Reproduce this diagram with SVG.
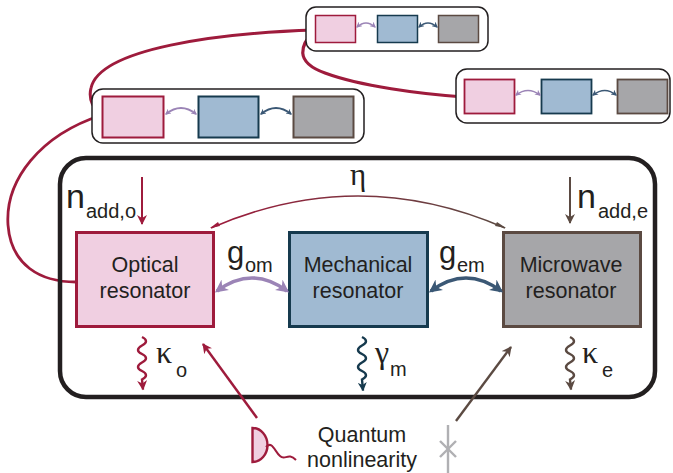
<svg xmlns="http://www.w3.org/2000/svg" width="673" height="473" viewBox="0 0 673 473">
<defs>
<style>
.lbl{font-family:"Liberation Sans",Arial,sans-serif;fill:#231f20}
.grk{font-family:"Liberation Serif","Times New Roman",serif;fill:#231f20}
.opt{fill:#f0cfe1;stroke:#9e1b3c}
.mec{fill:#a0bad2;stroke:#163a4e}
.mic{fill:#a6a6a9;stroke:#5b4a42}
.frame{fill:#fff;stroke:#231f20}
.link{fill:none;stroke:#9e1b3c;stroke-linecap:round}
</style>
<marker id="ahC" viewBox="0 0 10 10" refX="9" refY="5" markerWidth="10" markerHeight="10" markerUnits="userSpaceOnUse" orient="auto-start-reverse"><path d="M0,0 L10,5 L0,10 L3,5 Z" fill="#9e1b3c"/></marker>
<marker id="ahB" viewBox="0 0 10 10" refX="9" refY="5" markerWidth="10" markerHeight="10" markerUnits="userSpaceOnUse" orient="auto-start-reverse"><path d="M0,0 L10,5 L0,10 L3,5 Z" fill="#5b4a42"/></marker>
<marker id="ahD" viewBox="0 0 10 10" refX="9" refY="5" markerWidth="9" markerHeight="9" markerUnits="userSpaceOnUse" orient="auto-start-reverse"><path d="M0,0 L10,5 L0,10 L3,5 Z" fill="#163a4e"/></marker>
<marker id="ahL" viewBox="0 0 10 10" refX="8" refY="5" markerWidth="13" markerHeight="13" markerUnits="userSpaceOnUse" orient="auto-start-reverse"><path d="M0,0 L10,5 L0,10 L3,5 Z" fill="#9b84b6"/></marker>
<marker id="ahN" viewBox="0 0 10 10" refX="8" refY="5" markerWidth="13" markerHeight="13" markerUnits="userSpaceOnUse" orient="auto-start-reverse"><path d="M0,0 L10,5 L0,10 L3,5 Z" fill="#3b5875"/></marker>
<marker id="ahLs" viewBox="0 0 10 10" refX="8" refY="5" markerWidth="6" markerHeight="6" markerUnits="userSpaceOnUse" orient="auto-start-reverse"><path d="M0,0 L10,5 L0,10 L3,5 Z" fill="#9b84b6"/></marker>
<marker id="ahNs" viewBox="0 0 10 10" refX="8" refY="5" markerWidth="6" markerHeight="6" markerUnits="userSpaceOnUse" orient="auto-start-reverse"><path d="M0,0 L10,5 L0,10 L3,5 Z" fill="#3b5875"/></marker>
<linearGradient id="etaG" x1="210" y1="0" x2="505" y2="0" gradientUnits="userSpaceOnUse"><stop offset="0" stop-color="#9e1b3c"/><stop offset="1" stop-color="#5b4a42"/></linearGradient>
</defs>

<!-- network links (behind) -->
<g id="network-links">
<path class="link" stroke-width="3" d="M315,30 C220,33 100,48 91,88 C88,100 94,110 102,114"/>
<path class="link" stroke-width="3.2" d="M315,30 C300,45 294,62 325,73 C360,86 420,94 464,97"/>
<path class="link" stroke-width="2.8" d="M102,115 C40,135 5,180 8,225 C11,265 40,282 76,282"/>
</g>

<!-- remote node: top -->
<g id="node-top">
<rect class="frame" x="306" y="7" width="182" height="44" rx="10" stroke-width="1.5"/>
<rect class="opt" x="315.5" y="15.5" width="40" height="27" stroke-width="1.5"/>
<rect class="mec" x="377.5" y="15.5" width="40" height="27" stroke-width="1.5"/>
<rect class="mic" x="438.5" y="15.5" width="40" height="27" stroke-width="1.5"/>
<path d="M357,27 Q366,19 375,27" fill="none" stroke="#9b84b6" stroke-width="1.5" marker-start="url(#ahLs)" marker-end="url(#ahLs)"/>
<path d="M419,27 Q428,19 437,27" fill="none" stroke="#3b5875" stroke-width="1.5" marker-start="url(#ahNs)" marker-end="url(#ahNs)"/>
</g>

<!-- remote node: right -->
<g id="node-right">
<rect class="frame" x="456" y="69" width="214" height="54" rx="11" stroke-width="1.5"/>
<rect class="opt" x="464.5" y="79.5" width="50" height="34" stroke-width="1.8"/>
<rect class="mec" x="541.5" y="79.5" width="50" height="34" stroke-width="1.8"/>
<rect class="mic" x="617.5" y="79.5" width="50" height="34" stroke-width="1.8"/>
<path d="M516,95 Q528,86 540,95" fill="none" stroke="#9b84b6" stroke-width="1.6" marker-start="url(#ahLs)" marker-end="url(#ahLs)"/>
<path d="M593,95 Q605,86 616,95" fill="none" stroke="#3b5875" stroke-width="1.6" marker-start="url(#ahNs)" marker-end="url(#ahNs)"/>
</g>

<!-- remote node: left -->
<g id="node-left">
<rect class="frame" x="92" y="89" width="272" height="54" rx="11" stroke-width="1.5"/>
<rect class="opt" x="102.5" y="96.5" width="61" height="41" stroke-width="2"/>
<rect class="mec" x="198.5" y="96.5" width="60" height="41" stroke-width="2"/>
<rect class="mic" x="293.5" y="96.5" width="60" height="41" stroke-width="2"/>
<path d="M166,114 Q181,102 196,114" fill="none" stroke="#9b84b6" stroke-width="1.8" marker-start="url(#ahLs)" marker-end="url(#ahLs)"/>
<path d="M261,114 Q276,102 291,114" fill="none" stroke="#3b5875" stroke-width="1.8" marker-start="url(#ahNs)" marker-end="url(#ahNs)"/>
</g>

<!-- main transducer frame -->
<g id="transducer">
<rect x="60" y="158" width="595" height="239" rx="26" fill="none" stroke="#231f20" stroke-width="4.5"/>
</g>

<g id="optical">
<rect class="opt" x="76.5" y="232.5" width="137" height="94" stroke-width="3"/>
<text class="lbl" x="145" y="272" font-size="21.5" text-anchor="middle">Optical</text>
<text class="lbl" x="145" y="298" font-size="21.5" text-anchor="middle">resonator</text>
</g>
<g id="mechanical">
<rect class="mec" x="289.5" y="232.5" width="138" height="94" stroke-width="3"/>
<text class="lbl" x="358" y="272" font-size="21.5" text-anchor="middle">Mechanical</text>
<text class="lbl" x="358" y="298" font-size="21.5" text-anchor="middle">resonator</text>
</g>
<g id="microwave">
<rect class="mic" x="503.5" y="232.5" width="137" height="94" stroke-width="3"/>
<text class="lbl" x="571" y="272" font-size="21.5" text-anchor="middle">Microwave</text>
<text class="lbl" x="571" y="298" font-size="21.5" text-anchor="middle">resonator</text>
</g>

<!-- connectors -->
<g id="connectors">
<path d="M211,228 Q358,164 505,228" fill="none" stroke="url(#etaG)" stroke-width="1.6"/>
<path d="M218,222 L210,228 L220,226 Z" fill="#9e1b3c"/>
<path d="M497,222 L506,228 L495,226 Z" fill="#5b4a42"/>
<path d="M217,291 Q252,265 287,291" fill="none" stroke="#9b84b6" stroke-width="3.5" marker-start="url(#ahL)" marker-end="url(#ahL)"/>
<path d="M431,291 Q466,265 501,291" fill="none" stroke="#3b5875" stroke-width="3.5" marker-start="url(#ahN)" marker-end="url(#ahN)"/>
<line x1="142" y1="177" x2="142" y2="224" stroke="#9e1b3c" stroke-width="2" marker-end="url(#ahC)"/>
<line x1="570" y1="177" x2="570" y2="223" stroke="#5b4a42" stroke-width="2" marker-end="url(#ahB)"/>
<path d="M142,337 q8,4 0,8.5 t0,8.5 t0,8.5 t0,8.5 t0,8.5 l1,10" fill="none" stroke="#9e1b3c" stroke-width="2.4" marker-end="url(#ahC)"/>
<path d="M362,337 q8,4 0,8.5 t0,8.5 t0,8.5 t0,8.5 t0,8.5 l1,11" fill="none" stroke="#163a4e" stroke-width="2.4" marker-end="url(#ahD)"/>
<path d="M570,337 q8,4 0,8.5 t0,8.5 t0,8.5 t0,8.5 t0,8.5 l1,10" fill="none" stroke="#5b4a42" stroke-width="2.4" marker-end="url(#ahB)"/>
<line x1="257" y1="418" x2="203" y2="344" stroke="#9e1b3c" stroke-width="2.4" marker-end="url(#ahC)"/>
<line x1="456" y1="421" x2="511" y2="347" stroke="#5b4a42" stroke-width="2.4" marker-end="url(#ahB)"/>
</g>

<!-- labels -->
<g id="labels">
<text class="grk" x="358" y="185" font-size="31" text-anchor="middle">η</text>
<text class="lbl" x="66" y="208" font-size="34">n</text>
<text class="lbl" x="86" y="218" font-size="20">add,o</text>
<text class="lbl" x="577" y="208" font-size="34">n</text>
<text class="lbl" x="598" y="218" font-size="20">add,e</text>
<text class="lbl" x="227" y="263" font-size="31">g</text>
<text class="lbl" x="245" y="272" font-size="20">om</text>
<text class="lbl" x="439" y="263" font-size="31">g</text>
<text class="lbl" x="457" y="272" font-size="20">em</text>
<text class="grk" x="156" y="363" font-size="32">κ</text>
<text class="lbl" x="176" y="377" font-size="20">o</text>
<text class="grk" x="375" y="363" font-size="32">γ</text>
<text class="lbl" x="390" y="376" font-size="20">m</text>
<text class="grk" x="582" y="363" font-size="32">κ</text>
<text class="lbl" x="602" y="377" font-size="20">e</text>
</g>

<!-- quantum nonlinearity -->
<g id="nonlinearity">
<path d="M252.5,428 A15,17 0 0 1 252.5,462 Z" fill="#f0cfe1" stroke="#9e1b3c" stroke-width="2.4"/>
<path d="M266,447 C272,440 275,452 280,456 C285,461 288,452 296,460" fill="none" stroke="#9e1b3c" stroke-width="2"/>
<text class="lbl" x="362" y="442" font-size="21.5" text-anchor="middle">Quantum</text>
<text class="lbl" x="362" y="467" font-size="21.5" text-anchor="middle">nonlinearity</text>
<g stroke="#b0b0b3" stroke-width="2.4" fill="none">
<line x1="448" y1="425" x2="448" y2="473"/>
<line x1="440" y1="441" x2="456" y2="457"/>
<line x1="456" y1="441" x2="440" y2="457"/>
</g>
</g>
</svg>
